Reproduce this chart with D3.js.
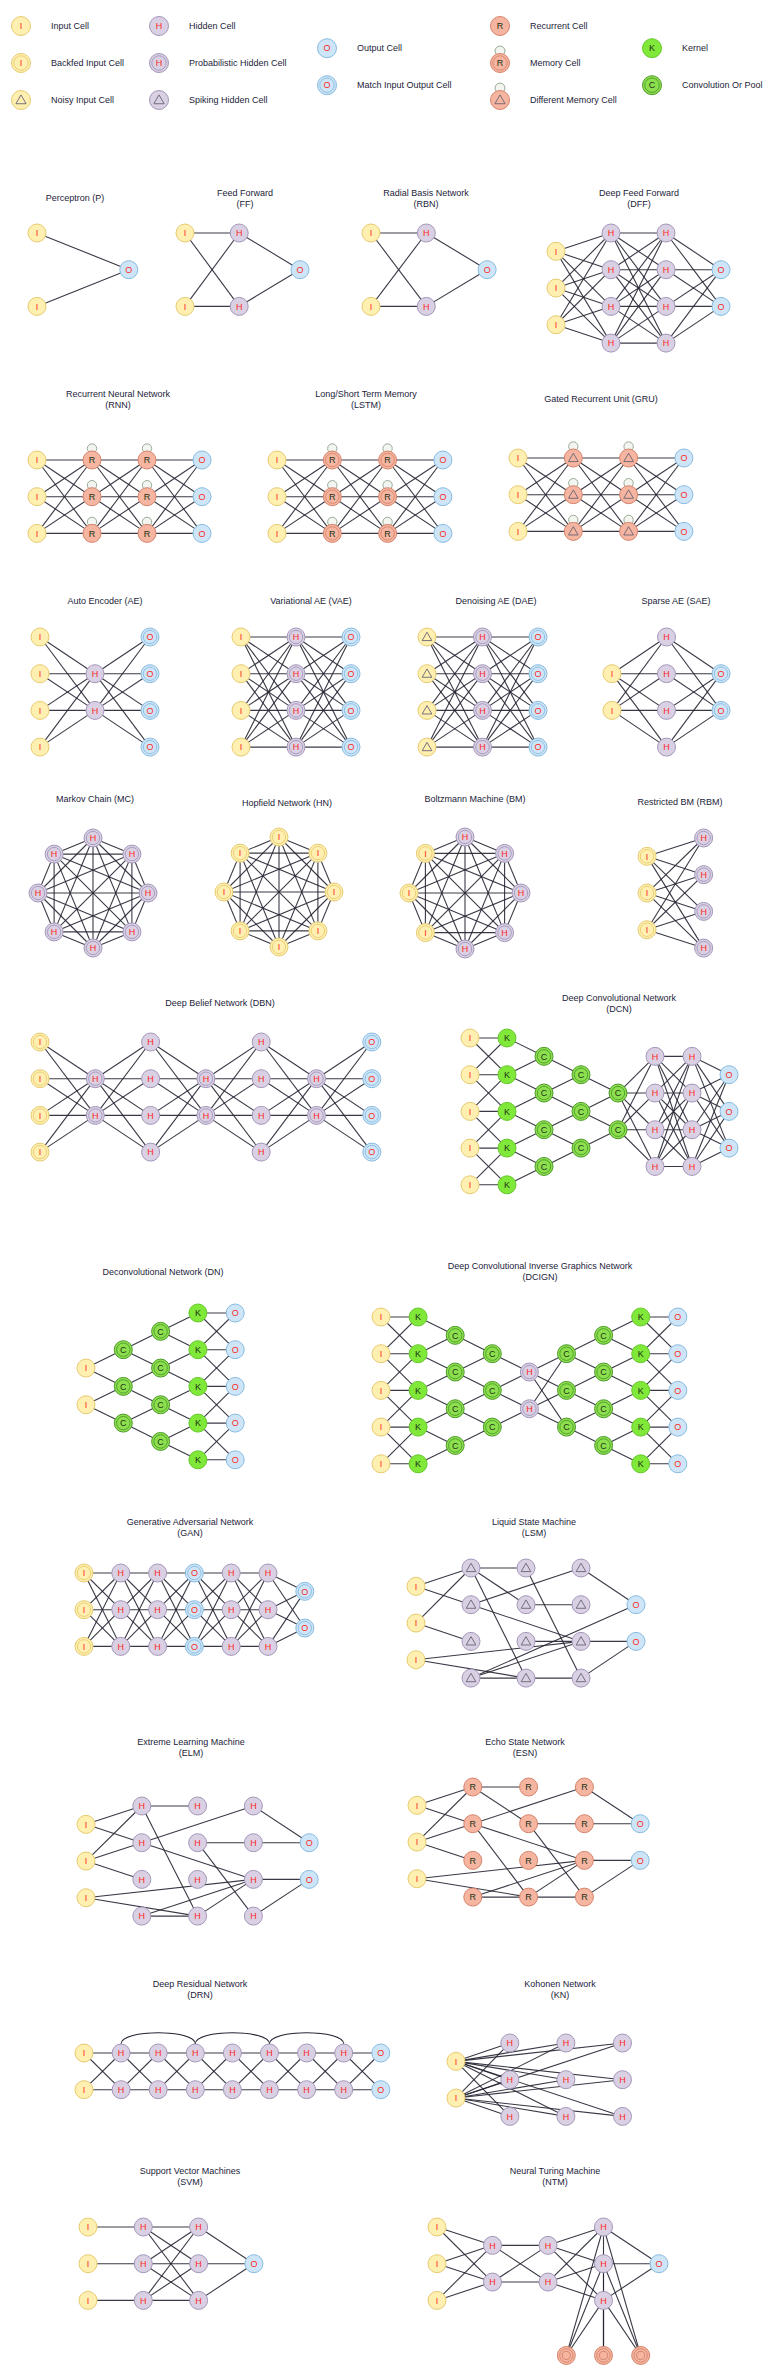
<!DOCTYPE html>
<html>
<head>
<meta charset="utf-8">
<script src="https://cdn.jsdelivr.net/npm/d3@7"></script>
<style>
html, body { margin: 0; padding: 0; background: #fff; }
svg { display: block; font-family: "Liberation Sans", Arial, sans-serif; }
</style>
</head>
<body>
<div id="zoo"></div>
<script>
const width = 777, height = 2377;
const full = "full";

// ---------- legend ----------
const legendLabels = ["Input Cell", "Backfed Input Cell", "Noisy Input Cell",
  "Hidden Cell", "Probabilistic Hidden Cell", "Spiking Hidden Cell",
  "Output Cell", "Match Input Output Cell",
  "Recurrent Cell", "Memory Cell", "Different Memory Cell",
  "Kernel", "Convolution Or Pool"];
const legendCells = ["in", "inb", "inn", "hid", "hidp", "spk", "out", "outm", "rec", "mem", "dmem", "ker", "conv"];
const legendColumn = [0, 0, 0, 1, 1, 1, 2, 2, 3, 3, 3, 4, 4];
const legendRow = [0, 1, 2, 0, 1, 2, 0.6, 1.6, 0, 1, 2, 0.6, 1.6];

// ---------- networks: cell layers [type, rows, (cols)], links [from, to, rule], custom pairs ----------
const pTitle = ["Perceptron (P)"];
const pLayers = [["in", [0, 2]], ["out", [1]]];
const pCols = [0, 1.66];
const pLinks = [[0, 1, full]];

const ffTitle = ["Feed Forward", "(FF)"];
const ffLayers = [["in", [0, 2]], ["hid", [0, 2]], ["out", [1]]];
const ffCols = [0, 0.98, 2.08];
const ffLinks = [[0, 1, full], [1, 2, full]];

const rbnTitle = ["Radial Basis Network", "(RBN)"];
const rbnLayers = [["in", [0, 2]], ["hid", [0, 2]], ["out", [1]]];
const rbnCols = [0, 1, 2.1];

const dffTitle = ["Deep Feed Forward", "(DFF)"];
const dffLayers = [["in", [0.5, 1.5, 2.5]], ["hid", [0, 1, 2, 3]], ["hid", [0, 1, 2, 3]], ["out", [1, 2]]];
const chain3 = [[0, 1, full], [1, 2, full], [2, 3, full]];

const rnnTitle = ["Recurrent Neural Network", "(RNN)"];
const rnnLayers = [["in", [0, 1, 2]], ["recl", [0, 1, 2]], ["recl", [0, 1, 2]], ["out", [0, 1, 2]]];
const lstmTitle = ["Long/Short Term Memory", "(LSTM)"];
const lstmLayers = [["in", [0, 1, 2]], ["mem", [0, 1, 2]], ["mem", [0, 1, 2]], ["out", [0, 1, 2]]];
const gruTitle = ["Gated Recurrent Unit (GRU)"];
const gruLayers = [["in", [0, 1, 2]], ["dmem", [0, 1, 2]], ["dmem", [0, 1, 2]], ["out", [0, 1, 2]]];

const aeTitle = ["Auto Encoder (AE)"];
const aeLayers = [["in", [0, 1, 2, 3]], ["hid", [1, 2]], ["outm", [0, 1, 2, 3]]];
const vaeTitle = ["Variational AE (VAE)"];
const vaeLayers = [["in", [0, 1, 2, 3]], ["hidp", [0, 1, 2, 3]], ["outm", [0, 1, 2, 3]]];
const daeTitle = ["Denoising AE (DAE)"];
const daeLayers = [["inn", [0, 1, 2, 3]], ["hidp", [0, 1, 2, 3]], ["outm", [0, 1, 2, 3]]];
const saeTitle = ["Sparse AE (SAE)"];
const saeLayers = [["in", [1, 2]], ["hid", [0, 1, 2, 3]], ["outm", [1, 2]]];
const chain2 = [[0, 1, full], [1, 2, full]];

// ring networks, clockwise from the top
const mcTitle = ["Markov Chain (MC)"];
const mcRing = ["hidp", "hidp", "hidp", "hidp", "hidp", "hidp", "hidp", "hidp"];
const hnTitle = ["Hopfield Network (HN)"];
const hnRing = ["inb", "inb", "inb", "inb", "inb", "inb", "inb", "inb"];
const bmTitle = ["Boltzmann Machine (BM)"];
const bmRing = ["hidp", "hidp", "hidp", "hidp", "hidp", "inb", "inb", "inb"];

const rbmTitle = ["Restricted BM (RBM)"];
const rbmLayers = [["inb", [0.5, 1.5, 2.5]], ["hidp", [0, 1, 2, 3]]];
const rbmCols = [0, 1.03];

const dbnTitle = ["Deep Belief Network (DBN)"];
const dbnLayers = [["inb", [0, 1, 2, 3]], ["hidp", [1, 2]], ["hid", [0, 1, 2, 3]], ["hidp", [1, 2]],
  ["hid", [0, 1, 2, 3]], ["hidp", [1, 2]], ["outm", [0, 1, 2, 3]]];
const dbnLinks = [[0, 1, full], [1, 2, full], [2, 3, full], [3, 4, full], [4, 5, full], [5, 6, full]];

const dcnTitle = ["Deep Convolutional Network", "(DCN)"];
const dcnLayers = [["in", [0, 1, 2, 3, 4]], ["ker", [0, 1, 2, 3, 4]], ["conv", [0.5, 1.5, 2.5, 3.5]],
  ["conv", [1, 2, 3]], ["conv", [1.5, 2.5]], ["hid", [0.5, 1.5, 2.5, 3.5]], ["hid", [0.5, 1.5, 2.5, 3.5]],
  ["out", [1, 2, 3]]];
const dcnLinks = [[0, 1, 1], [1, 2, 0.5], [2, 3, 0.5], [3, 4, 0.5], [4, 5, full], [5, 6, full], [6, 7, full]];

const dnTitle = ["Deconvolutional Network (DN)"];
const dnLayers = [["in", [1.5, 2.5]], ["conv", [1, 2, 3]], ["conv", [0.5, 1.5, 2.5, 3.5]],
  ["ker", [0, 1, 2, 3, 4]], ["out", [0, 1, 2, 3, 4]]];
const dnLinks = [[0, 1, 0.5], [1, 2, 0.5], [2, 3, 0.5], [3, 4, 1]];

const dcignTitle = ["Deep Convolutional Inverse Graphics Network", "(DCIGN)"];
const dcignLayers = [["in", [0, 1, 2, 3, 4]], ["ker", [0, 1, 2, 3, 4]], ["conv", [0.5, 1.5, 2.5, 3.5]],
  ["conv", [1, 2, 3]], ["hidp", [1.5, 2.5]], ["conv", [1, 2, 3]], ["conv", [0.5, 1.5, 2.5, 3.5]],
  ["ker", [0, 1, 2, 3, 4]], ["out", [0, 1, 2, 3, 4]]];
const dcignLinks = [[0, 1, 1], [1, 2, 0.5], [2, 3, 0.5], [3, 4, 0.5], [4, 5, full], [5, 6, 0.5], [6, 7, 0.5], [7, 8, 1]];

const ganTitle = ["Generative Adversarial Network", "(GAN)"];
const ganLayers = [["inb", [0, 1, 2]], ["hid", [0, 1, 2]], ["hid", [0, 1, 2]], ["outm", [0, 1, 2]],
  ["hid", [0, 1, 2]], ["hid", [0, 1, 2]], ["outm", [0.5, 1.5]]];

const lsmTitle = ["Liquid State Machine", "(LSM)"];
const lsmLayers = [["in", [0.5, 1.5, 2.5]], ["spk", [0, 1, 2, 3]], ["spk", [0, 1, 2, 3]], ["spk", [0, 1, 2, 3]], ["out", [1, 2]]];
const lsmPairs = [[0, 0, 1, 0], [0, 0, 1, 1], [0, 1, 1, 0], [0, 1, 1, 2], [0, 2, 3, 2], [0, 2, 2, 3],
  [1, 0, 2, 0], [1, 0, 2, 1], [1, 0, 2, 3], [1, 1, 3, 0], [1, 1, 3, 2], [2, 1, 3, 1], [2, 0, 3, 3],
  [3, 0, 4, 0], [1, 3, 4, 0], [2, 2, 3, 2], [3, 2, 4, 1], [1, 3, 3, 2], [1, 3, 2, 3], [2, 3, 3, 3], [3, 3, 4, 1]];

const elmTitle = ["Extreme Learning Machine", "(ELM)"];
const elmLayers = [["in", [0.5, 1.5, 2.5]], ["hid", [0, 1, 2, 3]], ["hid", [0, 1, 2, 3]], ["hid", [0, 1, 2, 3]], ["out", [1, 2]]];
const elmPairs = [[0, 0, 1, 0], [0, 0, 1, 1], [0, 1, 1, 0], [0, 1, 1, 1], [0, 1, 1, 2], [0, 2, 3, 2], [0, 2, 2, 3],
  [1, 0, 2, 0], [1, 0, 2, 3], [1, 1, 3, 0], [1, 1, 3, 2], [1, 3, 2, 3], [1, 3, 3, 2],
  [2, 1, 3, 1], [2, 1, 3, 3], [2, 3, 3, 2], [3, 0, 4, 0], [3, 1, 4, 0], [3, 2, 4, 1], [3, 3, 4, 1]];

const esnTitle = ["Echo State Network", "(ESN)"];
const esnLayers = [["in", [0.5, 1.5, 2.5]], ["rec", [0, 1, 2, 3]], ["rec", [0, 1, 2, 3]], ["rec", [0, 1, 2, 3]], ["out", [1, 2]]];
const esnPairs = [[0, 0, 1, 0], [0, 0, 1, 1], [0, 1, 1, 0], [0, 1, 1, 1], [0, 1, 1, 2], [0, 2, 2, 3], [0, 2, 3, 2],
  [1, 0, 2, 0], [1, 0, 2, 1], [1, 1, 3, 0], [1, 1, 3, 2], [1, 1, 2, 3], [2, 1, 3, 1], [2, 1, 3, 3],
  [1, 3, 2, 3], [2, 3, 3, 3], [1, 3, 3, 2], [2, 3, 3, 2], [3, 0, 4, 0], [3, 1, 4, 0], [3, 2, 4, 1], [3, 3, 4, 1]];

const drnTitle = ["Deep Residual Network", "(DRN)"];
const drnLayers = [["in", [0, 1]], ["hid", [0, 1]], ["hid", [0, 1]], ["hid", [0, 1]], ["hid", [0, 1]],
  ["hid", [0, 1]], ["hid", [0, 1]], ["hid", [0, 1]], ["out", [0, 1]]];
const drnLinks = [[0, 1, full], [1, 2, full], [2, 3, full], [3, 4, full], [4, 5, full], [5, 6, full], [6, 7, full], [7, 8, full]];
const drnSkips = [[1, 3], [3, 5], [5, 7]];

const knTitle = ["Kohonen Network", "(KN)"];
const knLayers = [["in", [0.5, 1.5]], ["hid", [0, 1, 2]], ["hid", [0, 1, 2]], ["hid", [0, 1, 2]]];
const knCols = [0, 0.97, 1.98, 3];
const knLinks = [[0, 1, full], [0, 2, full], [0, 3, full]];

const svmTitle = ["Support Vector Machines", "(SVM)"];
const svmLayers = [["in", [0, 1, 2]], ["hid", [0, 1, 2]], ["hid", [0, 1, 2]], ["out", [1]]];
const svmLinks = [[0, 1, 0], [1, 2, full], [2, 3, full]];

const ntmTitle = ["Neural Turing Machine", "(NTM)"];
const ntmLayers = [["in", [0, 1, 2]], ["hid", [0.5, 1.5]], ["hid", [0.5, 1.5]], ["hid", [0, 1, 2]], ["out", [1]],
  ["ntm", [3.5, 3.5, 3.5], [2.33, 3, 3.67]]];
const ntmLinks = [[0, 1, full], [1, 2, full], [2, 3, full], [3, 4, full], [3, 5, full]];

// ---------- page layout ----------
const panels = [
  {title: pTitle, layers: pLayers, cols: pCols, links: pLinks, x0: 37, y0: 233, dx: 55.3, tx: 75, ty: 198},
  {title: ffTitle, layers: ffLayers, cols: ffCols, links: ffLinks, x0: 185, y0: 233, dx: 55.3, tx: 245, ty: 193},
  {title: rbnTitle, layers: rbnLayers, cols: rbnCols, links: ffLinks, x0: 371, y0: 233, dx: 55.3, tx: 426, ty: 193},
  {title: dffTitle, layers: dffLayers, links: chain3, x0: 556, y0: 233, dx: 55, tx: 639, ty: 193},
  {title: rnnTitle, layers: rnnLayers, links: chain3, x0: 37, y0: 460, dx: 55, tx: 118, ty: 394},
  {title: lstmTitle, layers: lstmLayers, links: chain3, x0: 277, y0: 460, dx: 55.3, tx: 366, ty: 394},
  {title: gruTitle, layers: gruLayers, links: chain3, x0: 518, y0: 458, dx: 55.3, tx: 601, ty: 399},
  {title: aeTitle, layers: aeLayers, links: chain2, x0: 40, y0: 637, dx: 55, tx: 105, ty: 601},
  {title: vaeTitle, layers: vaeLayers, links: chain2, x0: 241, y0: 637, dx: 55, tx: 311, ty: 601},
  {title: daeTitle, layers: daeLayers, links: chain2, x0: 427, y0: 637, dx: 55.5, tx: 496, ty: 601},
  {title: saeTitle, layers: saeLayers, links: chain2, x0: 612, y0: 637, dx: 54.5, tx: 676, ty: 601},
  {title: mcTitle, ring: mcRing, cx: 93, cy: 893, rad: 55, tx: 95, ty: 799},
  {title: hnTitle, ring: hnRing, cx: 279, cy: 892, rad: 55, tx: 287, ty: 803},
  {title: bmTitle, ring: bmRing, cx: 465, cy: 893, rad: 56, tx: 475, ty: 799},
  {title: rbmTitle, layers: rbmLayers, cols: rbmCols, links: [[0, 1, full]], x0: 647, y0: 838, dx: 55, tx: 680, ty: 802},
  {title: dbnTitle, layers: dbnLayers, links: dbnLinks, x0: 40, y0: 1042, dx: 55.3, tx: 220, ty: 1003},
  {title: dcnTitle, layers: dcnLayers, links: dcnLinks, x0: 470, y0: 1038, dx: 37, tx: 619, ty: 998},
  {title: dnTitle, layers: dnLayers, links: dnLinks, x0: 86, y0: 1313, dx: 37.3, tx: 163, ty: 1272},
  {title: dcignTitle, layers: dcignLayers, links: dcignLinks, x0: 381, y0: 1317, dx: 37.1, tx: 540, ty: 1266},
  {title: ganTitle, layers: ganLayers, links: dbnLinks, x0: 84, y0: 1573, dx: 36.8, tx: 190, ty: 1522},
  {title: lsmTitle, layers: lsmLayers, pairs: lsmPairs, x0: 416, y0: 1568, dx: 55, tx: 534, ty: 1522},
  {title: elmTitle, layers: elmLayers, pairs: elmPairs, x0: 86, y0: 1806, dx: 55.8, tx: 191, ty: 1742},
  {title: esnTitle, layers: esnLayers, pairs: esnPairs, x0: 417, y0: 1787, dx: 55.8, tx: 525, ty: 1742},
  {title: drnTitle, layers: drnLayers, links: drnLinks, skips: drnSkips, x0: 84, y0: 2053, dx: 37.1, tx: 200, ty: 1984},
  {title: knTitle, layers: knLayers, cols: knCols, links: knLinks, x0: 456, y0: 2043, dx: 55.5, tx: 560, ty: 1984},
  {title: svmTitle, layers: svmLayers, links: svmLinks, x0: 88, y0: 2227, dx: 55.3, tx: 190, ty: 2171},
  {title: ntmTitle, layers: ntmLayers, links: ntmLinks, x0: 437, y0: 2227, dx: 55.5, tx: 555, ty: 2171}
];

// ---------- cell styles ----------
const shades = {
  yellow: ["#ffefb0", "#e6cb70"],
  purple: ["#d9d0e4", "#a497ba"],
  blue: ["#cde5f7", "#88bbe0"],
  salmon: ["#f5b5a0", "#d6846c"],
  green: ["#80e838", "#66c82c"],
  green2: ["#8ce04d", "#4f9a2c"]
};
const cellSpec = {
  in:   {c: "yellow", t: "I"},
  inb:  {c: "yellow", t: "I", ring: true},
  inn:  {c: "yellow", tri: true},
  hid:  {c: "purple", t: "H"},
  hidp: {c: "purple", t: "H", ring: true},
  spk:  {c: "purple", tri: true},
  out:  {c: "blue", t: "O"},
  outm: {c: "blue", t: "O", ring: true},
  rec:  {c: "salmon", t: "R", dark: true},
  recl: {c: "salmon", t: "R", dark: true, loop: true},
  mem:  {c: "salmon", t: "R", dark: true, ring: true, loop: true},
  dmem: {c: "salmon", tri: true, loop: true},
  ker:  {c: "green", t: "K", dark: true},
  conv: {c: "green2", t: "C", dark: true, ring: true},
  ntm:  {c: "salmon", ring: true, hole: true}
};

const svg = d3.select("#zoo").append("svg")
  .attr("width", width)
  .attr("height", height)
  .attr("viewBox", `0 0 ${width} ${height}`);

const edgeLayer = svg.append("g").attr("class", "edges");
const cellLayer = svg.append("g").attr("class", "cells");
const textLayer = svg.append("g").attr("class", "titles");

function drawCell(g, type, x, y, r) {
  const s = cellSpec[type];
  const [fill, stroke] = shades[s.c];
  const cell = g.append("g").attr("transform", `translate(${x},${y})`);
  if (s.loop) {
    cell.append("circle")
      .attr("cy", -r - 2.5)
      .attr("r", r * 0.52)
      .attr("fill", "#f2f5f0")
      .attr("stroke", "#9aab97")
      .attr("stroke-width", 1);
  }
  cell.append("circle")
    .attr("r", r)
    .attr("fill", fill)
    .attr("stroke", stroke)
    .attr("stroke-width", 1);
  if (s.ring) {
    cell.append("circle")
      .attr("r", r - 2.3)
      .attr("fill", "none")
      .attr("stroke", stroke)
      .attr("stroke-width", 0.9);
  }
  if (s.hole) {
    cell.append("circle")
      .attr("r", r * 0.45)
      .attr("fill", "none")
      .attr("stroke", stroke)
      .attr("stroke-width", 1);
  }
  if (s.tri) {
    cell.append("path")
      .attr("d", d3.symbol(d3.symbolTriangle, r * r * 0.5)())
      .attr("transform", "translate(0,0.8)")
      .attr("fill", "none")
      .attr("stroke", "#6a6474")
      .attr("stroke-width", 0.9);
  }
  if (s.t) {
    cell.append("text")
      .attr("text-anchor", "middle")
      .attr("dy", "0.36em")
      .style("font-size", "9px")
      .style("fill", s.dark ? "#1f3318" : "#ff2a1e")
      .text(s.t);
  }
}

function drawTitle(lines, tx, ty) {
  lines.forEach((line, i) => {
    textLayer.append("text")
      .attr("x", tx)
      .attr("y", ty + i * 11.3)
      .attr("dy", "0.35em")
      .attr("text-anchor", "middle")
      .style("font-size", "9px")
      .style("fill", "#1c1c3a")
      .text(line);
  });
}

function addEdge(p, q) {
  edgeLayer.append("line")
    .attr("x1", p.x).attr("y1", p.y)
    .attr("x2", q.x).attr("y2", q.y)
    .attr("stroke", "#232332")
    .attr("stroke-width", 1.1)
    .attr("stroke-opacity", 0.9);
}

// ---------- legend ----------
const legendX = d3.scaleOrdinal().domain([0, 1, 2, 3, 4]).range([21, 159, 327, 500, 652]);
const legendY = d3.scaleLinear().domain([0, 1]).range([26, 63]);

legendCells.forEach((type, i) => {
  const x = legendX(legendColumn[i]);
  const y = legendY(legendRow[i]);
  drawCell(cellLayer, type, x, y, 9.5);
  textLayer.append("text")
    .attr("x", x + 30)
    .attr("y", y)
    .attr("dy", "0.35em")
    .style("font-size", "9px")
    .style("fill", "#1c1c3a")
    .text(legendLabels[i]);
});

// ---------- networks ----------
const angle = d3.scaleLinear().domain([0, 8]).range([0, 2 * Math.PI]);

panels.forEach(net => {
  drawTitle(net.title, net.tx, net.ty);

  if (net.ring) {
    const nodes = net.ring.map((type, k) => ({
      type,
      x: net.cx + net.rad * Math.sin(angle(k)),
      y: net.cy - net.rad * Math.cos(angle(k))
    }));
    nodes.forEach((p, i) => nodes.slice(i + 1).forEach(q => addEdge(p, q)));
    nodes.forEach(p => drawCell(cellLayer, p.type, p.x, p.y, 9));
    return;
  }

  const x = d3.scaleLinear().domain([0, 1]).range([net.x0, net.x0 + net.dx]);
  const y = d3.scaleLinear().domain([0, 1]).range([net.y0, net.y0 + 36.7]);

  const layers = net.layers.map((L, li) => L[1].map((row, k) => ({
    type: L[0],
    row,
    x: x(L[2] ? L[2][k] : (net.cols ? net.cols[li] : li)),
    y: y(row)
  })));

  (net.links || []).forEach(([a, b, rule]) => {
    layers[a].forEach(p => layers[b].forEach(q => {
      if (rule === full || Math.abs(p.row - q.row) <= rule + 1e-6) addEdge(p, q);
    }));
  });
  (net.pairs || []).forEach(([a, i, b, j]) => addEdge(layers[a][i], layers[b][j]));

  (net.skips || []).forEach(([a, b]) => {
    const p = layers[a][0], q = layers[b][0];
    edgeLayer.append("path")
      .attr("d", `M${p.x},${p.y - 9} C${p.x},${p.y - 24} ${q.x},${p.y - 24} ${q.x},${q.y - 9}`)
      .attr("fill", "none")
      .attr("stroke", "#232332")
      .attr("stroke-width", 1.1);
  });

  layers.flat().forEach(p => drawCell(cellLayer, p.type, p.x, p.y, 9));
});
</script>
</body>
</html>
